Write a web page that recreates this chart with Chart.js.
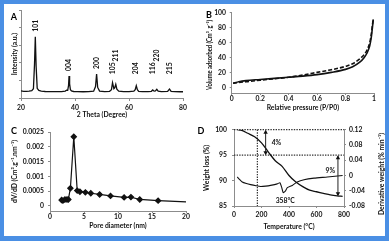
<!DOCTYPE html>
<html>
<head>
<meta charset="utf-8">
<script src="https://cdn.jsdelivr.net/npm/chart.js@4/dist/chart.umd.min.js"></script>
<style>
html, body { margin: 0; padding: 0; }
body { width: 389px; height: 241px; background: #4a8fe4; position: relative; overflow: hidden; }
.sheet { position: absolute; left: 4px; top: 4px; width: 381px; height: 232px; background: #fff; }
canvas { position: absolute; }
</style>
</head>
<body>
<div class="sheet"></div>
<canvas id="chartA" width="194" height="120" style="left:0;top:0"></canvas>
<canvas id="chartB" width="195" height="120" style="left:194px;top:0"></canvas>
<canvas id="chartC" width="194" height="121" style="left:0;top:120px"></canvas>
<canvas id="chartD" width="195" height="121" style="left:194px;top:120px"></canvas>
<script>
// A: XRD pattern
const xrdAngle = [20, 21, 22, 23, 24, 24.6, 25.0, 25.3, 25.6, 26.0, 26.6, 27.5, 29, 31, 33, 35, 36.4, 36.9, 37.3, 37.6,
    37.8, 38.0, 38.3, 38.7, 39.5, 41, 43, 45, 46.9, 47.6, 48.0, 48.4, 49.1, 51, 52.8, 53.5, 53.9, 54.4, 54.7, 55.1,
    55.5, 56.2, 58, 60, 61.8, 62.3, 62.7, 63.1, 63.6, 65, 67, 68.3, 68.8, 69.3, 69.8, 70.3, 70.8, 72, 74.3, 75.0,
    75.6, 77, 79, 80];
const xrdIntensity = [8.0, 7.6, 7.5, 7.7, 8.3, 10.5, 38, 69.6, 36, 11, 8.6, 7.8, 7.4, 7.2, 7.2, 7.3, 7.8, 9.0, 8.8, 14,
    25, 16, 9.5, 8.0, 7.4, 7.2, 7.1, 7.2, 7.8, 13, 27.3, 12, 7.9, 7.3, 7.6, 9.5, 17.4, 10.5, 11.5, 15.6,
    10, 7.8, 7.3, 7.2, 7.7, 9.5, 14, 9.5, 7.6, 7.2, 7.2, 7.6, 9.1, 7.8, 8.0, 9.9, 7.8, 7.2, 7.5, 10.2,
    7.6, 7.2, 7.1, 7.1];
const peakAngles = [25.3, 37.8, 48.0, 53.9, 55.1, 62.7, 68.8, 70.3, 75.0];
const peakNames = ['101', '004', '200', '105', '211', '204', '116', '220', '215'];
const xrdTicks = [20, 40, 60, 80];
const xrdIntensityTicks = [0, 20, 40, 60, 80, 100];

// B: N2 isotherm
const pressure = [0.01, 0.05, 0.1, 0.2, 0.3, 0.4, 0.5, 0.6, 0.7, 0.8, 0.85, 0.9, 0.93, 0.95, 0.97, 0.98, 0.99, 0.995];
const adsorption = [6, 8, 9.5, 11, 12.5, 14, 15.5, 17.5, 20.5, 24.5, 28, 34, 40, 46, 56, 66, 82, 91];
const desorption = [6, 7, 8, 10, 12, 14, 17, 20.5, 24, 28.5, 32, 38.5, 44, 50, 60, 70, 85, 92];
const pressureTicks = [0, 0.2, 0.4, 0.6, 0.8, 1];
const volumeTicks = [0, 20, 40, 60, 80, 100];

// C: pore size distribution
const poreDiameter = [1.7, 1.9, 2.2, 2.5, 2.7, 3.0, 3.5, 4.0, 4.4, 5.2, 6.0, 7.3, 8.9, 10.9, 11.9, 13.2, 15.9, 20];
const poreVolume = [0.0002, 0.00018, 0.00022, 0.00022, 0.00022, 0.0006, 0.00234, 0.00052, 0.00048, 0.00046, 0.00043,
    0.00039, 0.00034, 0.00029, 0.0003, 0.00022, 0.00018, 0.00014];
const poreTicks = [0, 5, 10, 15, 20];
const dvdTicks = [0, 0.0005, 0.001, 0.0015, 0.002, 0.0025];

// D: TGA / DTG
const tgaTemp = [25, 50, 100, 150, 200, 250, 300, 350, 400, 450, 500, 550, 600, 650, 700, 750, 790];
const tgaWeight = [100, 99.9, 99.3, 98.6, 97.4, 95.6, 93.9, 92.8, 91.0, 89.7, 88.8, 88.1, 87.8, 87.5, 87.2, 87.0, 86.9];
const dtgTemp = [24, 40, 60, 90, 121, 160, 194, 230, 266, 315, 334, 346, 358, 373, 388, 424, 460, 509, 582, 679, 790];
const dtgRate = [-0.004, -0.01, -0.017, -0.021, -0.024, -0.027, -0.029, -0.028, -0.026, -0.022, -0.019, -0.03, -0.045,
    -0.041, -0.032, -0.026, -0.017, -0.011, -0.007, -0.004, 0.0];
const tempTicks = [0, 200, 400, 600, 800];
const weightTicks = [85, 90, 95, 100];
const rateTicks = [-0.08, -0.04, 0, 0.04, 0.08, 0.12];
const guideLevels = [100, 95];
const guideTemp = 170;
const stepTemps = [230, 756];
const stepFrom = [100, 95];
const stepTo = [95, 86.9];
const stepLabels = ['4%', '9%'];
const dipTemp = 358;
const dipLabel = '358°C';

const fontFamily = 'Lato';
const font = { family: fontFamily, size: 6.8, weight: 'bold' };
const textColor = '#111';
const axisColor = '#8c8c8c';

const pairs = (xs, ys) => xs.map((x, i) => ({ x, y: ys[i] }));
const fixedTicks = (values) => (scale) => { scale.ticks = values.map((value) => ({ value })); };
const fixWidth = (w) => (scale) => { scale.width = w; };
const fixHeight = (h) => (scale) => { scale.height = h; };

const axis = (extra) => Object.assign({
    type: 'linear',
    grid: { drawOnChartArea: false, color: axisColor, tickLength: 2 },
    border: { color: axisColor, width: 1 },
    ticks: { font, color: textColor, maxRotation: 0, autoSkip: false },
}, extra);

const baseOptions = (padding, scales) => ({
    responsive: false,
    animation: false,
    devicePixelRatio: 1,
    layout: { padding },
    plugins: { legend: { display: false }, tooltip: { enabled: false } },
    scales,
});

const letter = (text, x, y) => ({
    id: 'letter' + text,
    afterDraw(chart) {
        const ctx = chart.ctx;
        ctx.save();
        ctx.font = 'bold 9px ' + fontFamily;
        ctx.fillStyle = '#000';
        ctx.textAlign = 'center';
        ctx.textBaseline = 'middle';
        ctx.fillText(text, x, y);
        ctx.restore();
    },
});

// vertical text reading bottom-to-top, squeezed to maxWidth like the narrow original font
const sideText = (id, text, x, y, maxWidth) => ({
    id,
    afterDraw(chart) {
        const ctx = chart.ctx;
        ctx.save();
        ctx.font = 'bold 6.8px ' + fontFamily;
        ctx.fillStyle = textColor;
        ctx.textAlign = 'center';
        ctx.textBaseline = 'middle';
        ctx.translate(x, y);
        ctx.rotate(-Math.PI / 2);
        ctx.fillText(text, 0, 0, maxWidth);
        ctx.restore();
    },
});

const title = (text) => ({ display: true, text, padding: 0, color: textColor, font });

// ---- A ----
const peakLabels = {
    id: 'peakLabels',
    afterDatasetsDraw(chart) {
        const { ctx, scales: { x, y } } = chart;
        ctx.save();
        ctx.font = 'bold 6.8px ' + fontFamily;
        ctx.fillStyle = textColor;
        ctx.textAlign = 'left';
        ctx.textBaseline = 'middle';
        let prev = null;
        peakAngles.forEach((a, i) => {
            const top = Math.max(...xrdIntensity.filter((v, j) => Math.abs(xrdAngle[j] - a) <= 0.3));
            const px = x.getPixelForValue(a);
            let bottom = Math.min(y.getPixelForValue(top) - 5, y.getPixelForValue(27));
            const w = ctx.measureText(peakNames[i]).width;
            if (prev && px - prev.px < 8) {
                bottom = Math.min(bottom, prev.top - 1);
            }
            ctx.save();
            ctx.translate(px, bottom);
            ctx.rotate(-Math.PI / 2);
            ctx.fillText(peakNames[i], 0, 0);
            ctx.restore();
            prev = { px, top: bottom - w };
        });
        ctx.restore();
    },
};

new Chart(document.getElementById('chartA'), {
    type: 'line',
    data: {
        datasets: [{
            data: pairs(xrdAngle, xrdIntensity),
            borderColor: '#111',
            borderWidth: 1.3,
            pointRadius: 0,
            tension: 0,
        }],
    },
    options: baseOptions({ left: 10.8, right: 11, top: 10, bottom: 0.8 }, {
        x: axis({
            min: 20, max: 80,
            afterBuildTicks: fixedTicks(xrdTicks),
            ticks: { font, color: textColor, maxRotation: 0, autoSkip: false, padding: 2.8 },
            grid: { drawOnChartArea: false, color: axisColor, tickLength: 3 },
            title: title('2 Theta (Degree)'),
            afterFit: fixHeight(21.2),
        }),
        y: axis({
            min: 0, max: 100,
            afterBuildTicks: fixedTicks(xrdIntensityTicks),
            ticks: { font, color: textColor, callback: () => '' },
            title: title('Intensity (a.u.)'),
            afterFit: fixWidth(10.2),
        }),
    }),
    plugins: [peakLabels, letter('A', 14, 17)],
});

// ---- B ----
new Chart(document.getElementById('chartB'), {
    type: 'line',
    data: {
        datasets: [
            { data: pairs(pressure, adsorption), borderColor: '#111', borderWidth: 1.6, pointRadius: 0, cubicInterpolationMode: 'monotone' },
            { data: pairs(pressure, desorption), borderColor: '#111', borderWidth: 1.6, borderDash: [4, 2], pointRadius: 0, cubicInterpolationMode: 'monotone' },
        ],
    },
    options: baseOptions({ left: 11.8, right: 15, top: 12.7, bottom: 7.8 }, {
        x: axis({
            min: 0, max: 1,
            afterBuildTicks: fixedTicks(pressureTicks),
            ticks: { font, color: textColor, maxRotation: 0, autoSkip: false, padding: 0, callback: (v) => String(v) },
            title: title('Relative pressure (P/P0)'),
            afterFit: fixHeight(19.2),
        }),
        y: axis({
            min: -7, max: 100,
            afterBuildTicks: fixedTicks(volumeTicks),
            ticks: { font, color: textColor, autoSkip: false, padding: 3.7 },
            afterFit: fixWidth(25.9),
        }),
    }),
    plugins: [sideText('titleB', 'Volume adsorbed (Cm³. g⁻¹)', 16, 55, 70), letter('B', 15, 15)],
});

// ---- C ----
new Chart(document.getElementById('chartC'), {
    type: 'line',
    data: {
        datasets: [{
            data: pairs(poreDiameter, poreVolume),
            borderColor: '#111',
            backgroundColor: '#111',
            borderWidth: 1.2,
            pointStyle: 'rectRot',
            pointRadius: (c) => (c.dataIndex === poreDiameter.length - 1 ? 0 : 2.6),
            tension: 0,
        }],
    },
    options: baseOptions({ left: 10.8, right: 8, top: 12, bottom: 10.8 }, {
        x: axis({
            min: 0, max: 20,
            afterBuildTicks: fixedTicks(poreTicks),
            ticks: { font, color: textColor, maxRotation: 0, autoSkip: false, padding: 0 },
            title: title('Pore diameter (nm)'),
            afterFit: fixHeight(19.2),
        }),
        y: axis({
            min: -0.00017, max: 0.0025,
            afterBuildTicks: fixedTicks(dvdTicks),
            ticks: { font, color: textColor, autoSkip: false, padding: 4, callback: (v) => String(v) },
            title: title('dV/dD (Cm³.g⁻¹.nm⁻¹)'),
            afterFit: fixWidth(39.2),
        }),
    }),
    plugins: [letter('C', 14, 11)],
});

// ---- D ----
const drawArrowHead = (ctx, x, y, dir) => {
    ctx.beginPath();
    ctx.moveTo(x, y);
    ctx.lineTo(x - 2.2, y - dir * 4);
    ctx.lineTo(x + 2.2, y - dir * 4);
    ctx.closePath();
    ctx.fill();
};

const tgaMarks = {
    id: 'tgaMarks',
    beforeDatasetsDraw(chart) {
        const { ctx, chartArea: area, scales: { x, y } } = chart;
        ctx.save();
        ctx.strokeStyle = '#333';
        ctx.lineWidth = 1.2;
        ctx.setLineDash([1.4, 1.2]);
        guideLevels.forEach((lv) => {
            const py = y.getPixelForValue(lv);
            ctx.beginPath();
            ctx.moveTo(area.left, py);
            ctx.lineTo(area.right, py);
            ctx.stroke();
        });
        const gx = x.getPixelForValue(guideTemp);
        ctx.beginPath();
        ctx.moveTo(gx, area.top);
        ctx.lineTo(gx, area.bottom);
        ctx.stroke();
        ctx.restore();
    },
    afterDatasetsDraw(chart) {
        const { ctx, scales: { x, y, y1 } } = chart;
        ctx.save();
        ctx.strokeStyle = '#222';
        ctx.fillStyle = textColor;
        ctx.lineWidth = 1;
        ctx.font = 'bold 6.8px ' + fontFamily;
        ctx.textBaseline = 'middle';
        stepTemps.forEach((t, i) => {
            const px = x.getPixelForValue(t);
            const top = y.getPixelForValue(stepFrom[i]);
            const bottom = y.getPixelForValue(stepTo[i]);
            ctx.beginPath();
            ctx.moveTo(px, top + 1);
            ctx.lineTo(px, bottom - 1);
            ctx.stroke();
            drawArrowHead(ctx, px, top, -1);
            drawArrowHead(ctx, px, bottom, 1);
            const midY = (top + bottom) / 2;
            if (i === 0) {
                ctx.textAlign = 'left';
                ctx.fillText(stepLabels[i], px + 6, midY);
            } else {
                ctx.textAlign = 'right';
                ctx.fillText(stepLabels[i], px - 3, midY - 5);
            }
        });
        const dipY = y1.getPixelForValue(Math.min(...dtgRate));
        ctx.textAlign = 'center';
        ctx.fillText(dipLabel, x.getPixelForValue(dipTemp) + 2, dipY + 8);
        ctx.restore();
    },
};

new Chart(document.getElementById('chartD'), {
    type: 'line',
    data: {
        datasets: [
            { data: pairs(tgaTemp, tgaWeight), yAxisID: 'y', borderColor: '#111', borderWidth: 1.3, pointRadius: 0, cubicInterpolationMode: 'monotone' },
            { data: pairs(dtgTemp, dtgRate), yAxisID: 'y1', borderColor: '#111', borderWidth: 1.1, pointRadius: 0, tension: 0.2 },
        ],
    },
    options: baseOptions({ left: 8.8, right: 2.8, top: 9.7, bottom: 10.5 }, {
        x: axis({
            min: 0, max: 800,
            afterBuildTicks: fixedTicks(tempTicks),
            ticks: { font, color: textColor, maxRotation: 0, autoSkip: false, padding: 2.5 },
            title: title('Temperature (°C)'),
            afterFit: fixHeight(24.5),
        }),
        y: axis({
            position: 'left',
            min: 85, max: 100,
            afterBuildTicks: fixedTicks(weightTicks),
            ticks: { font, color: textColor, autoSkip: false, padding: 5 },
            title: title('Weight loss (%)'),
            afterFit: fixWidth(31.2),
        }),
        y1: axis({
            position: 'right',
            min: -0.08, max: 0.12,
            afterBuildTicks: fixedTicks(rateTicks),
            ticks: { font, color: textColor, autoSkip: false, padding: 3, callback: (v) => String(+v.toFixed(2)) },
            afterFit: fixWidth(42.2),
        }),
    }),
    plugins: [tgaMarks, sideText('titleD', 'Derivative weight (% min⁻¹)', 188, 54, 92), letter('D', 7, 11)],
});
</script>
</body>
</html>
